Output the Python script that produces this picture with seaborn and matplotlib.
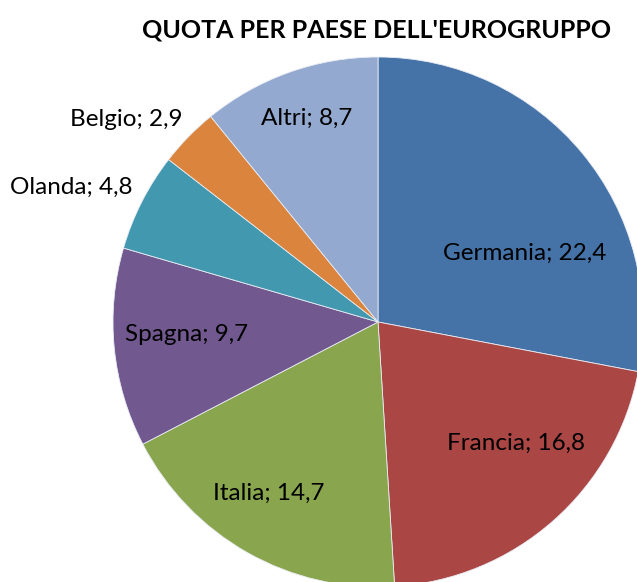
import matplotlib
matplotlib.use("Agg")
import matplotlib.pyplot as plt
import seaborn as sns
import numpy as np

sns.set_theme(style="white")
plt.rcParams['font.family'] = ['Lato', 'DejaVu Sans']

categories = ["Germania", "Francia", "Italia", "Spagna", "Olanda", "Belgio", "Altri"]
values = [22.4, 16.8, 14.7, 9.7, 4.8, 2.9, 8.7]
value_labels = ["22,4", "16,8", "14,7", "9,7", "4,8", "2,9", "8,7"]
colors = ["#4572A7", "#AA4643", "#89A54E", "#71588F", "#4198AF", "#DB843D", "#93A9CF"]

# label placement (angle offset in degrees from wedge middle, radius)
label_place = {
    "Germania": (-14.5, 0.61),
    "Francia": (7.4, 0.693),
    "Italia": (-2.9, 0.767),
    "Spagna": (-2.0, 0.724),
    "Altri": (-0.2, 0.816),
}
# outside labels: right-aligned, pixel anchor (right edge x, center y)
outside_place = {
    "Olanda": (133, 187),
    "Belgio": (183, 120),
}

W, H = 637, 582
cx, cy, R = 378, 322, 265
fig = plt.figure(figsize=(W / 100, H / 100), dpi=100)
ax = fig.add_axes([0, 0, 1, 1])
wedges, _ = ax.pie(values, colors=colors, startangle=90, counterclock=False,
                   radius=1.0, wedgeprops=dict(edgecolor="#E8ECF4", linewidth=0.6))
ax.set_xlim(-cx / R, (W - cx) / R)
ax.set_ylim(-(H - cy) / R, cy / R)
ax.set_aspect("auto")
ax.axis("off")

for w, cat, vl in zip(wedges, categories, value_labels):
    mid = (w.theta1 + w.theta2) / 2.0
    if cat in label_place:
        dang, r = label_place[cat]
        a = np.deg2rad(mid + dang)
        x, y = r * np.cos(a), r * np.sin(a)
        ha = "center"
    else:
        px, py = outside_place[cat]
        x, y = (px - cx) / R, (cy - py) / R
        ha = "right"
    ax.text(x, y, f"{cat}; {vl}", ha=ha, va="center", fontsize=17.5, color="black")

fig.text(377 / W, 1 - 30 / H, "QUOTA PER PAESE DELL'EUROGRUPPO", ha="center", va="center",
         fontsize=18, fontweight="bold", color="black")

fig.savefig("out.png", dpi=100)
